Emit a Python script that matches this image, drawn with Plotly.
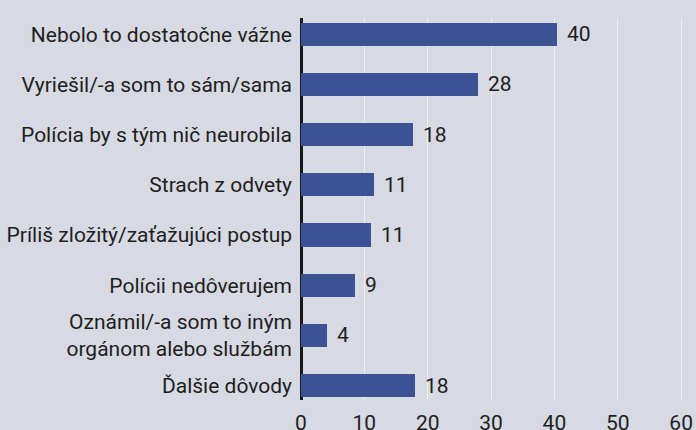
import plotly.graph_objects as go

categories = [
    "Nebolo to dostatočne vážne",
    "Vyriešil/-a som to sám/sama",
    "Polícia by s tým nič neurobila",
    "Strach z odvety",
    "Príliš zložitý/zaťažujúci postup",
    "Polícii nedôverujem",
    "Oznámil/-a som to iným<br>orgánom alebo službám",
    "Ďalšie dôvody",
]
values = [40.4, 27.9, 17.7, 11.5, 11.1, 8.5, 4.1, 18.0]
value_labels = ["40", "28", "18", "11", "11", "9", "4", "18"]
x_ticks = [0, 10, 20, 30, 40, 50, 60]

BG = "#d7dae3"
BAR = "#3d5294"
TXT = "#1e1e1e"
FONT = "Roboto"
FS = 21

fig = go.Figure()
fig.add_trace(go.Bar(
    x=values, y=categories, orientation="h",
    marker=dict(color=BAR, line=dict(width=0)),
    width=0.46, hoverinfo="skip",
))

for v, c, t in zip(values, categories, value_labels):
    fig.add_annotation(x=v, y=c, text=t, showarrow=False, xanchor="left",
                       yanchor="middle", xshift=8,
                       font=dict(family=FONT, size=FS, color=TXT))

fig.update_layout(
    width=696, height=430,
    margin=dict(l=301, r=6, t=18, b=30, autoexpand=False),
    paper_bgcolor=BG, plot_bgcolor=BG,
    showlegend=False,
    font=dict(family=FONT, size=FS, color=TXT),
    bargap=0,
)
fig.update_xaxes(
    range=[0, 61.4], tickvals=x_ticks, showgrid=True, gridcolor="#eceef3",
    gridwidth=1, zeroline=True, zerolinecolor="#1a1a1a", zerolinewidth=3,
    ticks="", showline=False, ticklabelstandoff=8,
    tickfont=dict(family=FONT, size=FS, color=TXT), automargin=False,
)
fig.update_yaxes(
    type="category", categoryorder="array", categoryarray=categories,
    range=[7.289, -0.325], ticks="", showgrid=False, ticklabelstandoff=8,
    tickfont=dict(family=FONT, size=FS, color=TXT), automargin=False,
)

fig.write_html(
    "out.html",
    config={"displayModeBar": False},
    post_script="document.body.style.margin='0';document.body.style.background='#d7dae3';document.body.style.overflow='hidden';",
)
